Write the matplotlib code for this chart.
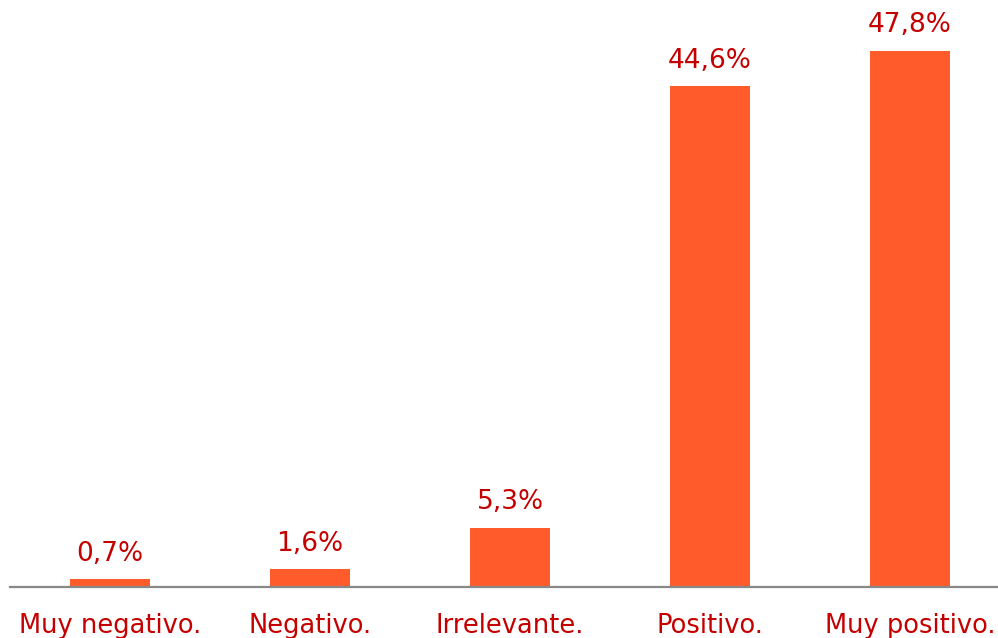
import matplotlib
matplotlib.use("Agg")
import matplotlib.pyplot as plt

categories = ["Muy negativo.", "Negativo.", "Irrelevante.", "Positivo.", "Muy positivo."]
values = [0.7, 1.6, 5.3, 44.6, 47.8]
value_labels = ["0,7%", "1,6%", "5,3%", "44,6%", "47,8%"]

bar_color = "#FF5B2B"
text_color = "#C40000"

fig = plt.figure(figsize=(9.98, 6.38), dpi=100)
ax = fig.add_axes([10/998, 51/638, 988/998, 587/638])
x = list(range(len(categories)))
bars = ax.bar(x, values, width=0.4, color=bar_color, zorder=2)
ax.set_xlim(-0.5, len(categories) - 0.56)
ax.set_ylim(0, 52.3)

for xi, v, lab in zip(x, values, value_labels):
    ax.annotate(lab, (xi, v), xytext=(0, 9), textcoords="offset points",
                ha="center", va="bottom", fontsize=19, color=text_color)

ax.set_xticks(x)
ax.set_xticklabels(categories, fontsize=18.5, color=text_color)
ax.tick_params(axis="x", length=0, pad=19)
ax.set_yticks([])
for s in ["top", "right", "left"]:
    ax.spines[s].set_visible(False)
ax.spines["bottom"].set_color("#888888")
ax.spines["bottom"].set_linewidth(1.6)
ax.patch.set_alpha(0)

fig.savefig("out.png", dpi=100)
